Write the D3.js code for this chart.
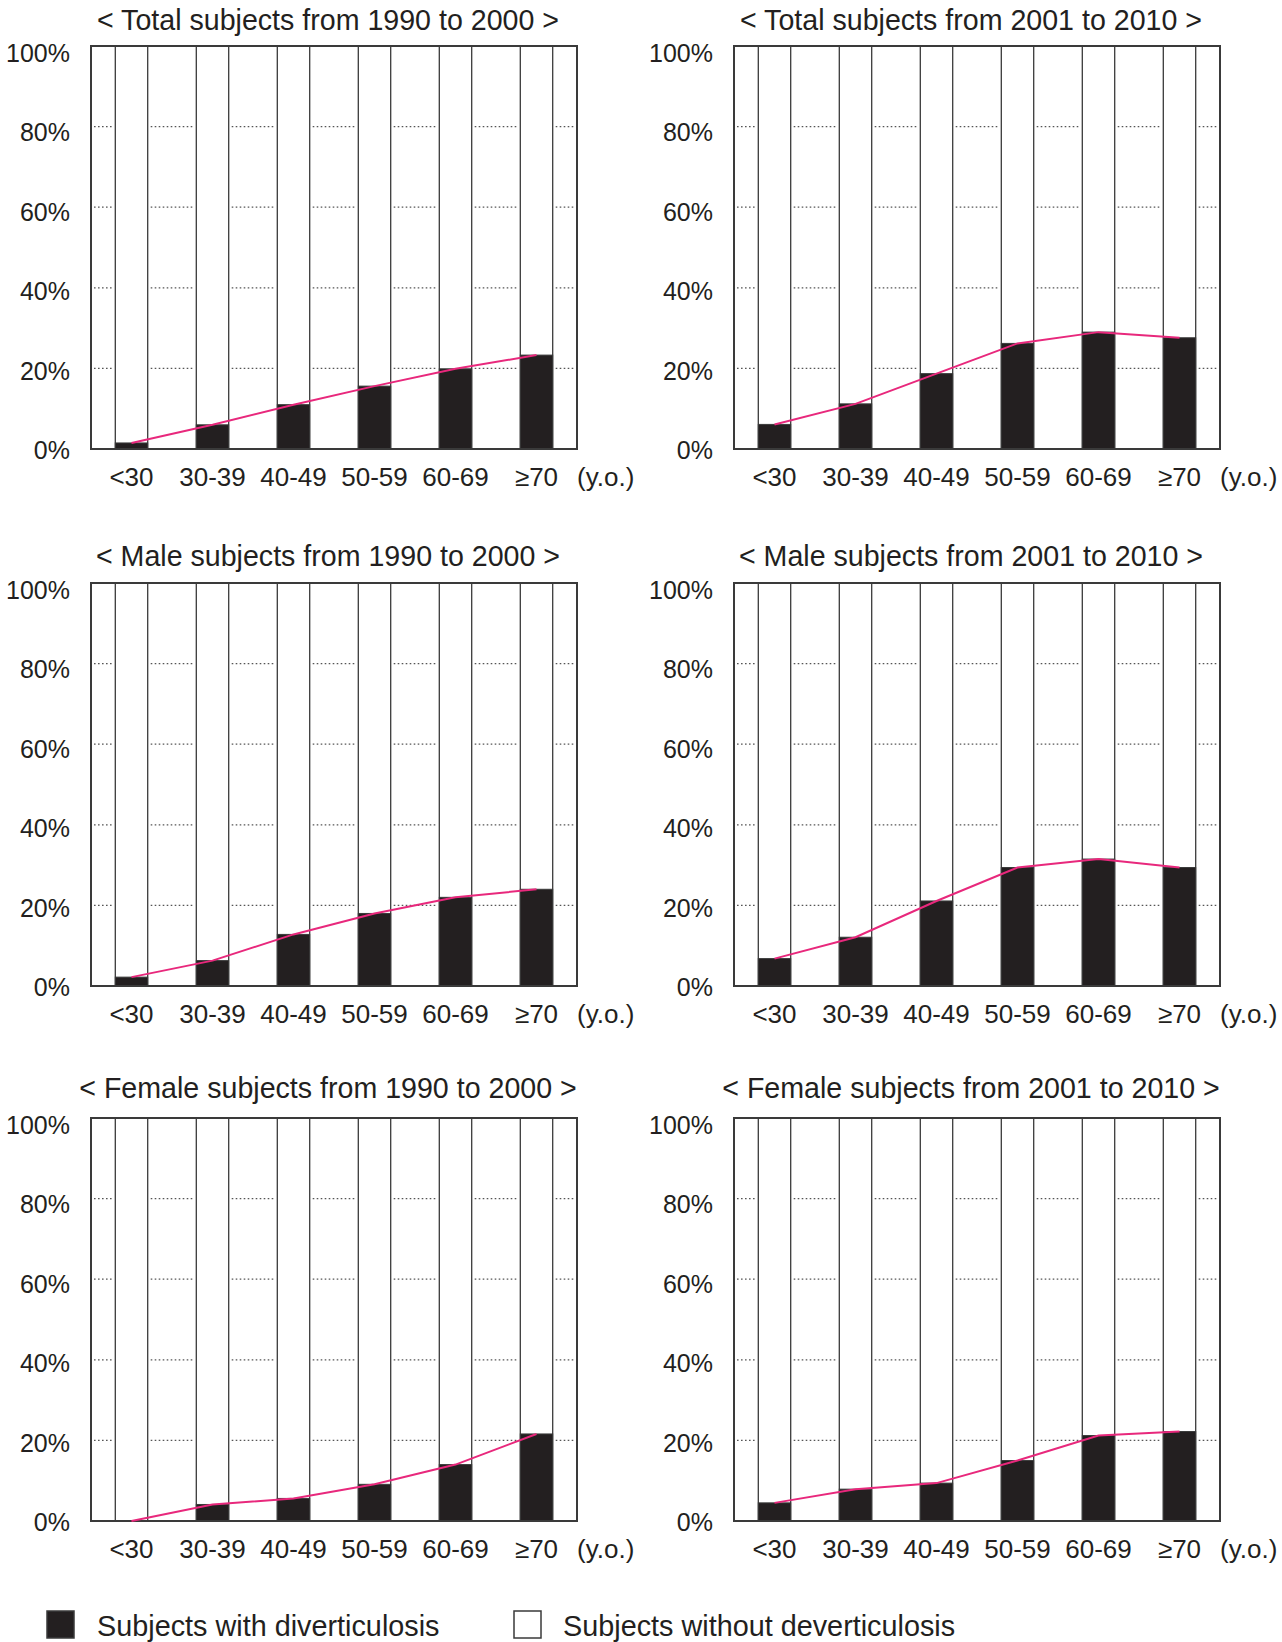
<!DOCTYPE html>
<html>
<head>
<meta charset="utf-8">
<script src="https://cdn.jsdelivr.net/npm/d3@7/dist/d3.min.js"></script>
<style>
  html, body { margin: 0; padding: 0; background: #fff; }
  svg { display: block; }
  text { font-family: "Liberation Sans", Arial, Helvetica, sans-serif; fill: #231f20; }
</style>
</head>
<body>
<svg id="chart" width="1282" height="1642"></svg>
<script>
// Age groups on the x axis
const ageGroups = ["<30", "30-39", "40-49", "50-59", "60-69", "≥70"];
const ageUnit = "(y.o.)";

// Share of subjects with diverticulosis (%) per age group
const total1990 = [1.5, 6.0, 11.0, 15.6, 19.9, 23.3];
const total2001 = [6.1, 11.2, 18.7, 26.2, 29.0, 27.6];
const male1990 = [2.2, 6.3, 12.8, 18.0, 22.0, 24.0];
const male2001 = [6.8, 12.1, 21.1, 29.4, 31.5, 29.4];
const female1990 = [0.0, 4.1, 5.6, 9.1, 14.0, 21.6];
const female2001 = [4.5, 7.9, 9.4, 15.0, 21.2, 22.2];

// Panel titles
const titleTotal1990 = "< Total subjects from 1990 to 2000 >";
const titleTotal2001 = "< Total subjects from 2001 to 2010 >";
const titleMale1990 = "< Male subjects from 1990 to 2000 >";
const titleMale2001 = "< Male subjects from 2001 to 2010 >";
const titleFemale1990 = "< Female subjects from 1990 to 2000 >";
const titleFemale2001 = "< Female subjects from 2001 to 2010 >";

// Y axis ticks (%)
const yTicks = [0, 20, 40, 60, 80, 100];
const gridTicks = [20, 40, 60, 80];

// Legend
const legendLabels = ["Subjects with diverticulosis", "Subjects without deverticulosis"];

const panels = [
  { title: titleTotal1990, values: total1990, col: 0, row: 0 },
  { title: titleTotal2001, values: total2001, col: 1, row: 0 },
  { title: titleMale1990, values: male1990, col: 0, row: 1 },
  { title: titleMale2001, values: male2001, col: 1, row: 1 },
  { title: titleFemale1990, values: female1990, col: 0, row: 2 },
  { title: titleFemale2001, values: female2001, col: 1, row: 2 }
];

// Layout
const colLeft = [91, 734];
const rowTop = [46, 583, 1118];
const titleGap = [16, 17, 20];
const plotW = 486;
const plotH = 403;

const INK = "#231f20";
const EDGE = "#3a3a3a";
const PINK = "#e8287c";

const svg = d3.select("#chart");

panels.forEach(p => {
  const left = colLeft[p.col];
  const top = rowTop[p.row];
  const g = svg.append("g").attr("transform", `translate(${left},${top})`);

  const x = d3.scaleBand()
    .domain(ageGroups)
    .range([0, plotW])
    .paddingInner(0.6)
    .paddingOuter(0.3);
  const y = d3.scaleLinear().domain([0, 100]).range([plotH, 0]);
  // tick labels sit on a slightly compressed scale
  const yLab = d3.scaleLinear().domain([0, 100]).range([plotH + 1, 7]);
  const bw = x.bandwidth();

  // dotted gridlines in the gaps between bars
  const edges = [0];
  ageGroups.forEach(a => { edges.push(x(a)); edges.push(x(a) + bw); });
  edges.push(plotW);
  const gaps = [];
  for (let i = 0; i < edges.length; i += 2) gaps.push([edges[i], edges[i + 1]]);
  gridTicks.forEach(t => {
    gaps.forEach(([a, b]) => {
      g.append("line")
        .attr("x1", a + 3).attr("x2", b - 3)
        .attr("y1", y(t)).attr("y2", y(t))
        .attr("stroke", "#555")
        .attr("stroke-width", 1.2)
        .attr("stroke-dasharray", "1.6,2.4");
    });
  });

  // full-height bars (without diverticulosis)
  g.selectAll("rect.full")
    .data(p.values)
    .join("rect")
    .attr("class", "full")
    .attr("x", (d, i) => x(ageGroups[i]))
    .attr("y", y(100))
    .attr("width", bw)
    .attr("height", y(0) - y(100))
    .attr("fill", "#fff")
    .attr("stroke", EDGE)
    .attr("stroke-width", 1.3);

  // bottom part (with diverticulosis)
  g.selectAll("rect.with")
    .data(p.values)
    .join("rect")
    .attr("class", "with")
    .attr("x", (d, i) => x(ageGroups[i]))
    .attr("y", d => y(d))
    .attr("width", bw)
    .attr("height", d => y(0) - y(d))
    .attr("fill", INK)
    .attr("stroke", d => d > 0 ? EDGE : "none")
    .attr("stroke-width", 1);

  // frame
  g.append("rect")
    .attr("x", 0).attr("y", 0)
    .attr("width", plotW).attr("height", plotH)
    .attr("fill", "none")
    .attr("stroke", EDGE)
    .attr("stroke-width", 2);

  // trend line
  const line = d3.line()
    .x((d, i) => x(ageGroups[i]) + bw / 2)
    .y(d => y(d));
  g.append("path")
    .datum(p.values)
    .attr("d", line)
    .attr("fill", "none")
    .attr("stroke", PINK)
    .attr("stroke-width", 2);

  // y tick labels
  g.selectAll("text.ytick")
    .data(yTicks)
    .join("text")
    .attr("class", "ytick")
    .attr("x", -21)
    .attr("y", d => yLab(d))
    .attr("dy", "0.36em")
    .attr("text-anchor", "end")
    .attr("font-size", 25)
    .text(d => d + "%");

  // x tick labels
  g.selectAll("text.xtick")
    .data(ageGroups)
    .join("text")
    .attr("class", "xtick")
    .attr("x", d => x(d) + bw / 2)
    .attr("y", plotH + 37)
    .attr("text-anchor", "middle")
    .attr("font-size", 26)
    .text(d => d);

  g.append("text")
    .attr("x", plotW)
    .attr("y", plotH + 37)
    .attr("text-anchor", "start")
    .attr("font-size", 26)
    .text(ageUnit);

  // panel title
  g.append("text")
    .attr("x", plotW / 2 - 6)
    .attr("y", -titleGap[p.row])
    .attr("text-anchor", "middle")
    .attr("font-size", 28.6)
    .text(p.title);
});

// legend
const legend = svg.append("g").attr("transform", "translate(0,1611)");
const legendItems = [
  { label: legendLabels[0], fill: INK, boxX: 47, textX: 97 },
  { label: legendLabels[1], fill: "#fff", boxX: 514, textX: 563 }
];
legendItems.forEach(it => {
  legend.append("rect")
    .attr("x", it.boxX).attr("y", 0)
    .attr("width", 27).attr("height", 27)
    .attr("fill", it.fill)
    .attr("stroke", EDGE)
    .attr("stroke-width", 1.5);
  legend.append("text")
    .attr("x", it.textX)
    .attr("y", 25)
    .attr("font-size", 28.8)
    .text(it.label);
});
</script>
</body>
</html>
